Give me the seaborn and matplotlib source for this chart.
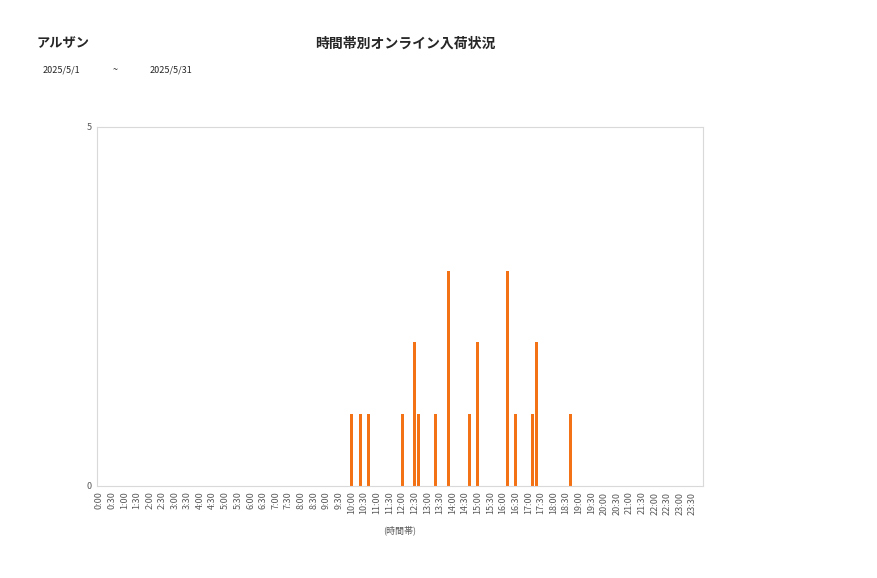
import matplotlib
matplotlib.use("Agg")
import matplotlib.pyplot as plt
import seaborn as sns
import pandas as pd

# 10-minute slots over the day
slots = [f"{h}:{m:02d}" for h in range(24) for m in range(0, 60, 10)]
tick_labels = [f"{h}:{m:02d}" for h in range(24) for m in (0, 30)]

# slots that received orders and their counts
hit_slots = ["10:00", "10:20", "10:40", "12:00", "12:30", "12:40", "13:20",
             "13:50", "14:40", "15:00", "16:10", "16:30", "17:10", "17:20", "18:40"]
hit_counts = [1, 1, 1, 1, 2, 1, 1, 3, 1, 2, 3, 1, 1, 2, 1]

counts = dict(zip(hit_slots, hit_counts))
df = pd.DataFrame({"slot": slots, "count": [counts.get(s, 0) for s in slots]})

sns.set_theme(style="white")
plt.rcParams['font.family'] = ['Noto Sans CJK JP', 'DejaVu Sans']

fig = plt.figure(figsize=(8.77, 5.78), dpi=100)
ax = fig.add_axes([0.1106, 0.1592, 0.691, 0.6211])

sns.barplot(data=df, x="slot", y="count", color="#F47216", width=0.72,
            saturation=1, linewidth=0, ax=ax)

ax.set_xlim(-0.5, len(slots) - 0.5)
ax.set_ylim(0, 5)
ax.set_yticks([0, 5])
ax.set_yticklabels(["0", "5"], fontsize=6.5, color="#595959")
ax.set_xticks([slots.index(t) for t in tick_labels])
ax.set_xticklabels(tick_labels, rotation=90, fontsize=6.5, color="#595959")
ax.tick_params(axis="both", length=0, pad=4)
ax.set_xlabel("(時間帯)", fontsize=6.5, color="#595959", labelpad=8)
ax.set_ylabel("")
for sp in ax.spines.values():
    sp.set_color("#D9D9D9")
    sp.set_linewidth(0.8)

fig.text(0.042, 0.925, "アルザン", fontsize=9.5, fontweight="bold", va="center")
fig.text(0.462, 0.925, "時間帯別オンライン入荷状況", fontsize=10, fontweight="bold",
         ha="center", va="center")
fig.text(0.048, 0.879, "2025/5/1", fontsize=6.5, va="center")
fig.text(0.128, 0.879, "~", fontsize=6.5, va="center")
fig.text(0.171, 0.879, "2025/5/31", fontsize=6.5, va="center")

fig.savefig("out.png", dpi=100)
